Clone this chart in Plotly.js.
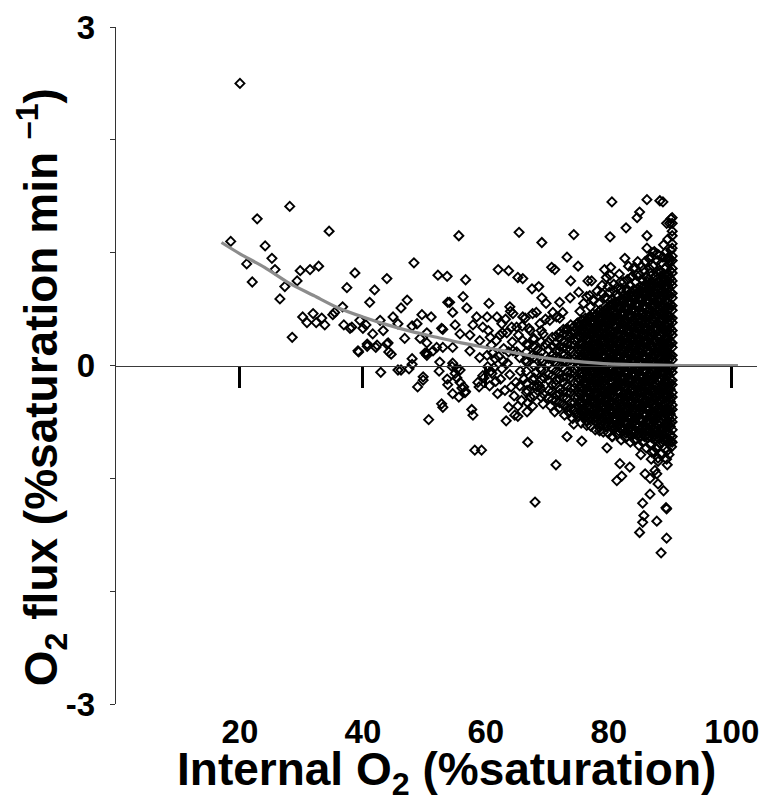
<!DOCTYPE html>
<html>
<head>
<meta charset="utf-8">
<script src="https://cdn.plot.ly/plotly-3.0.1.min.js"></script>
<style>html,body{margin:0;padding:0;background:#fff;}#chart{width:778px;height:801px;}</style>
</head>
<body>
<div id="chart"></div>
<script>
// ---- tick labels ----
const xTickVals = [20, 40, 60, 80, 100];
const xTickText = ['20', '40', '60', '80', '100'];
const yTickVals = [-3, 0, 3];
const yTickText = ['-3', '0', '3'];

// ---- fitted curve ----
const fitX = [17, 20, 24, 28, 32, 36, 40, 44, 48, 52, 56, 60, 64, 68, 72, 76, 80, 84, 88, 92, 96, 101];
const fitY = [1.09, 0.99, 0.87, 0.73, 0.62, 0.51, 0.43, 0.36, 0.30, 0.25, 0.20, 0.16, 0.12, 0.08, 0.05, 0.03, 0.015, 0.008, 0.003, 0, 0, 0];

// ---- observations, internal O2 < 50 ----
const obsLow = [[20,2.5],[28.1,1.41],[22.8,1.30],[34.5,1.19],[18.5,1.10],[24.1,1.06],[25.2,0.95],[21.1,0.90],[25.7,0.85],[32.8,0.88],[31.4,0.85],[29.8,0.84],[38.7,0.82],[29.3,0.75],[22.0,0.74],[27.3,0.70],[43.9,0.77],[48.3,0.91],[37.4,0.69],[41.9,0.67],[26.5,0.59],[41.1,0.56],[47.2,0.58],[46.2,0.51],[36.7,0.52],[35.4,0.47],[35.1,0.45],[30.2,0.43],[31.9,0.46],[30.9,0.38],[32.4,0.38],[33.3,0.42],[33.8,0.36],[36.9,0.36],[37.9,0.33],[38.2,0.34],[39.5,0.40],[40.5,0.36],[40.0,0.33],[42.8,0.40],[44.9,0.43],[45.7,0.37],[43.3,0.31],[41.6,0.28],[44.1,0.20],[42.3,0.18],[40.7,0.19],[39.2,0.13],[44.2,0.12],[28.5,0.25],[46.8,0.24],[49.6,0.45],[48.8,0.37],[48.0,0.35],[48.0,0.06],[39.3,0.12],[40.7,0.17],[42.1,0.16],[43.9,0.19],[44.6,0.10],[42.9,-0.06],[45.7,-0.04],[46.2,-0.04],[48.0,0.01],[47.5,-0.03],[48.9,-0.19],[49.8,-0.13],[49.3,0.24]];

// ---- observations, internal O2 50-70 ----
const obsMid = [[52.2,0.80],[53.7,0.79],[53.0,0.32],[50.4,0.29],[51.1,0.43],[50.1,0.11],[51.4,0.13],[52.0,0.16],[53.8,0.56],[55.6,1.15],[65.4,1.18],[69.1,1.09],[56.7,0.76],[62.0,0.85],[63.7,0.84],[65.2,0.78],[66.0,0.77],[67.5,0.68],[68.6,0.70],[56.3,0.61],[54.1,0.56],[56.9,0.51],[60.5,0.55],[69.1,0.60],[69.8,0.55],[63.9,0.52],[64.4,0.46],[54.6,0.47],[58.5,0.43],[60.2,0.43],[61.8,0.43],[66.0,0.43],[67.6,0.46],[57.9,0.36],[59.5,0.34],[62.6,0.37],[64.2,0.34],[55.0,0.36],[55.8,0.28],[52.8,0.33],[57.4,0.27],[59.0,0.22],[60.7,0.25],[62.3,0.27],[63.4,0.29],[50.4,0.20],[53.0,0.16],[54.6,0.16],[50.4,0.11],[52.5,0.03],[54.6,0.02],[55.8,-0.04],[57.4,0.13],[59.0,0.07],[61.1,0.11],[62.8,0.04],[64.4,0.13],[65.5,0.07],[65.0,0.34],[67.2,0.31],[69.3,0.28],[66.0,0.22],[68.8,0.37],[50.7,-0.48],[52.8,-0.34],[49.8,-0.10],[53.7,-0.12],[55.0,-0.07],[55.8,-0.15],[56.6,-0.24],[54.6,-0.25],[56.1,-0.20],[57.7,-0.39],[58.2,-0.75],[59.3,-0.75],[58.7,-0.15],[59.5,-0.09],[61.6,-0.14],[61.0,-0.07],[62.6,-0.03],[64.1,-0.19],[65.5,-0.18],[66.7,-0.22],[68.3,-0.19],[69.3,-0.25],[63.7,-0.37],[65.2,-0.36],[64.7,-0.44],[63.3,-0.49],[66.8,-0.33],[67.6,-0.36],[66.8,-0.68],[68.0,-1.21],[50.4,0.09],[52.4,-0.05],[53.8,-0.17],[54.5,-0.01],[55.3,-0.11],[55.3,-0.03],[55.6,-0.28],[56.7,-0.23],[56.4,-0.19],[53.0,-0.37],[57.9,-0.44],[58.9,-0.19],[59.7,-0.11],[60.8,-0.05],[60.3,-0.01],[60.4,0.31],[60.9,0.18],[61.3,-0.02],[61.7,0.22],[62.1,0.08],[62.4,-0.12],[62.9,0.15],[63.2,0.41],[63.5,0.02],[63.9,-0.08],[64.3,0.21],[64.6,-0.27],[65.0,0.12],[65.3,0.27],[65.6,-0.05],[65.9,0.35],[66.2,-0.12],[66.5,0.05],[66.9,0.18],[67.2,-0.28],[67.5,0.09],[67.8,0.24],[68.1,-0.06],[68.4,0.14],[68.7,-0.18],[69.0,0.31],[69.2,0.03],[69.5,-0.11],[69.8,0.19],[60.6,-0.18],[61.9,-0.25],[63.1,-0.22],[64.0,0.48],[65.8,-0.31],[66.4,0.42],[67.0,0.33],[68.2,0.47],[69.3,-0.34],[69.7,0.41],[62.7,0.29],[64.9,-0.15],[66.7,-0.41],[68.9,-0.02],[67.7,-0.13],[65.2,-0.45],[63.7,0.12],[61.5,0.06],[60.2,0.09]];

// ---- observations above the dense cloud, internal O2 > 70 ----
const obsHighUpper = [[74.3,1.16],[80.5,1.45],[86.2,1.47],[88.3,1.46],[88.8,1.45],[85.0,1.36],[84.6,1.31],[82.8,1.22],[80.2,1.14],[86.2,1.15],[89.4,1.26],[90.1,1.30],[89.9,1.26],[73.2,0.96],[75.0,0.88],[70.7,0.87],[71.2,0.85],[79.3,0.85],[80.2,0.80],[84.2,0.87],[87.2,1.00],[87.8,0.99],[88.8,0.96],[89.6,0.95],[89.9,0.93],[89.1,0.86],[88.5,0.83],[73.8,0.75],[76.6,0.75],[77.2,0.75],[83.6,0.78],[86.5,0.77],[72.0,0.56],[73.7,0.60],[75.1,0.65],[81.3,0.69],[82.1,0.65],[82.9,0.68],[78.9,0.64],[79.8,0.59],[76.9,0.62],[77.4,0.58],[70.9,0.47],[71.5,0.43],[72.5,0.47],[70.4,0.40],[72.0,0.42],[73.2,0.31],[74.8,0.37],[75.3,0.48],[75.9,0.55],[76.4,0.61],[77.0,0.52],[77.6,0.58],[78.1,0.66],[78.4,0.55],[78.9,0.71],[79.3,0.60],[79.6,0.78],[80.1,0.65],[80.5,0.58],[80.8,0.72],[81.3,0.63],[81.7,0.81],[82.0,0.68],[82.4,0.74],[82.9,0.66],[83.2,0.88],[83.5,0.71],[83.8,0.79],[84.3,0.74],[84.7,0.92],[85.0,0.80],[85.4,0.76],[85.7,0.85],[86.1,0.78],[86.5,0.95],[86.8,0.82],[87.2,0.88],[87.5,0.79],[87.9,0.93],[88.3,0.84],[88.6,0.91],[89.0,0.81],[89.3,0.87],[89.7,0.96],[90.0,0.84],[86.2,1.04],[87.4,1.01],[88.9,1.07],[89.6,1.12],[84.0,0.86],[82.6,0.95],[80.3,0.87],[84.5,0.80],[85.3,0.88],[85.9,0.92],[86.6,0.86],[87.0,0.96],[87.7,0.83],[88.1,0.98],[88.7,0.78],[89.2,1.00],[89.8,0.90],[90.1,1.02],[86.3,0.74],[87.9,0.77],[89.5,0.79],[83.0,0.76],[81.9,0.74],[80.9,0.66],[79.9,0.70]];

// ---- observations below the dense cloud, internal O2 > 70 ----
const obsHighLower = [[71.4,-0.88],[73.2,-0.63],[75.6,-0.67],[74.3,-0.52],[76.4,-0.53],[78.5,-0.58],[80.5,-0.63],[79.7,-0.73],[81.8,-0.87],[83.4,-0.90],[82.1,-0.98],[81.3,-1.02],[87.0,-0.77],[88.0,-0.82],[89.4,-0.83],[87.8,-0.74],[89.6,-0.75],[88.3,-0.69],[90.1,-0.67],[85.9,-0.96],[87.5,-0.93],[86.7,-1.00],[87.8,-0.96],[88.0,-1.05],[88.9,-1.11],[86.7,-1.14],[85.5,-1.22],[89.3,-1.26],[89.4,-1.27],[85.7,-1.33],[85.5,-1.39],[87.8,-1.38],[85.0,-1.48],[89.4,-1.53],[88.5,-1.66],[70.5,-0.36],[71.2,-0.41],[71.9,-0.38],[72.8,-0.44],[73.4,-0.41],[74.1,-0.47],[74.9,-0.45],[75.5,-0.51],[76.3,-0.49],[77.1,-0.54],[77.8,-0.57],[78.5,-0.55],[79.1,-0.59],[79.9,-0.60],[80.6,-0.63],[81.4,-0.61],[82.0,-0.66],[82.7,-0.64],[83.5,-0.68],[84.2,-0.66],[84.9,-0.71],[85.5,-0.68],[86.1,-0.73],[86.7,-0.70],[87.3,-0.76],[87.9,-0.72],[88.5,-0.78],[89.1,-0.74],[89.8,-0.79],[90.2,-0.72],[88.0,-0.85],[89.5,-0.88],[86.9,-0.83],[85.2,-0.79]];

// ---- dense cloud, internal O2 66-90 (x of each column, and its flux values) ----
const denseColX = [66.6, 67.8, 69.0, 70.2, 70.8, 71.4, 72.0, 72.6, 73.2, 73.8, 74.4, 75.0, 75.6, 76.2, 76.8, 77.4, 78.0, 78.6, 79.2, 79.8, 80.4, 81.0, 81.6, 82.2, 82.8, 83.4, 84.0, 84.6, 85.2, 85.8, 86.4, 87.0, 87.6, 88.2, 88.8, 89.4, 90.0, 90.3];
const denseColY = [
 [-0.24,-0.16,-0.05,0.03,0.12,0.19],
 [-0.27,-0.18,-0.11,0.00,0.07,0.17,0.23],
 [-0.28,-0.21,-0.12,-0.04,0.06,0.12,0.21],
 [-0.29,-0.22,-0.13,-0.08,0.01,0.06,0.14,0.21],
 [-0.30,-0.23,-0.17,-0.09,-0.03,0.05,0.09,0.17,0.25],
 [-0.31,-0.26,-0.17,-0.13,-0.05,0.02,0.08,0.13,0.20,0.26],
 [-0.33,-0.25,-0.21,-0.12,-0.07,0.00,0.06,0.13,0.17,0.24,0.29],
 [-0.35,-0.28,-0.23,-0.15,-0.10,-0.02,0.04,0.09,0.16,0.21,0.28,0.32],
 [-0.37,-0.29,-0.24,-0.18,-0.10,-0.06,0.03,0.07,0.15,0.19,0.27,0.33],
 [-0.38,-0.33,-0.24,-0.20,-0.11,-0.07,0.01,0.05,0.14,0.18,0.26,0.29,0.36],
 [-0.40,-0.33,-0.28,-0.20,-0.15,-0.07,-0.03,0.06,0.10,0.18,0.23,0.30,0.35],
 [-0.42,-0.36,-0.28,-0.23,-0.15,-0.11,-0.02,0.02,0.10,0.15,0.23,0.27,0.35,0.38],
 [-0.44,-0.36,-0.32,-0.23,-0.19,-0.10,-0.06,0.03,0.07,0.15,0.19,0.28,0.32,0.40],
 [-0.45,-0.40,-0.31,-0.27,-0.18,-0.14,-0.06,0.01,0.05,0.13,0.18,0.26,0.30,0.38,0.42],
 [-0.47,-0.39,-0.35,-0.26,-0.22,-0.14,-0.09,-0.01,0.06,0.10,0.18,0.22,0.31,0.35,0.43],
 [-0.48,-0.43,-0.34,-0.30,-0.22,-0.17,-0.09,-0.04,0.04,0.08,0.17,0.21,0.29,0.36,0.40,0.46],
 [-0.50,-0.43,-0.38,-0.30,-0.25,-0.17,-0.13,-0.04,0.02,0.07,0.15,0.19,0.28,0.32,0.40,0.45],
 [-0.52,-0.44,-0.40,-0.31,-0.27,-0.18,-0.14,-0.06,0.00,0.05,0.13,0.18,0.26,0.30,0.39,0.43,0.49],
 [-0.53,-0.47,-0.39,-0.35,-0.26,-0.22,-0.14,-0.07,-0.03,0.06,0.10,0.18,0.23,0.31,0.35,0.44,0.48],
 [-0.54,-0.48,-0.43,-0.35,-0.31,-0.23,-0.19,-0.11,-0.07,0.01,0.05,0.12,0.16,0.24,0.28,0.36,0.40,0.47,0.51],
 [-0.55,-0.51,-0.43,-0.39,-0.32,-0.26,-0.22,-0.14,-0.10,-0.03,0.03,0.07,0.15,0.19,0.26,0.30,0.38,0.41,0.49,0.53],
 [-0.56,-0.50,-0.46,-0.38,-0.35,-0.27,-0.21,-0.18,-0.10,-0.06,0.02,0.05,0.13,0.17,0.24,0.30,0.34,0.42,0.45,0.53,0.56],
 [-0.58,-0.52,-0.45,-0.42,-0.34,-0.30,-0.23,-0.17,-0.13,-0.06,-0.02,0.06,0.09,0.17,0.21,0.28,0.32,0.40,0.43,0.51,0.57],
 [-0.58,-0.54,-0.46,-0.43,-0.35,-0.29,-0.26,-0.18,-0.12,-0.09,-0.01,0.03,0.10,0.14,0.22,0.25,0.33,0.37,0.44,0.48,0.56,0.59],
 [-0.60,-0.53,-0.49,-0.42,-0.38,-0.30,-0.27,-0.19,-0.15,-0.08,-0.04,0.04,0.07,0.15,0.19,0.26,0.30,0.38,0.41,0.49,0.53,0.61],
 [-0.61,-0.55,-0.48,-0.45,-0.37,-0.33,-0.26,-0.22,-0.14,-0.11,-0.03,0.01,0.08,0.12,0.20,0.23,0.31,0.35,0.42,0.46,0.54,0.57,0.64],
 [-0.61,-0.57,-0.50,-0.44,-0.40,-0.32,-0.29,-0.21,-0.17,-0.10,-0.06,0.02,0.05,0.13,0.17,0.24,0.28,0.36,0.39,0.47,0.51,0.58,0.62,0.67],
 [-0.62,-0.55,-0.51,-0.44,-0.39,-0.35,-0.27,-0.24,-0.16,-0.12,-0.05,0.00,0.06,0.10,0.18,0.22,0.29,0.33,0.40,0.45,0.52,0.55,0.63,0.68],
 [-0.63,-0.57,-0.50,-0.47,-0.39,-0.36,-0.28,-0.23,-0.19,-0.11,-0.08,0.00,0.04,0.11,0.15,0.23,0.26,0.34,0.38,0.45,0.49,0.57,0.60,0.66,0.70],
 [-0.63,-0.58,-0.53,-0.45,-0.42,-0.34,-0.31,-0.23,-0.18,-0.14,-0.06,-0.03,0.05,0.08,0.16,0.21,0.27,0.32,0.38,0.43,0.50,0.53,0.61,0.65,0.71],
 [-0.64,-0.57,-0.52,-0.48,-0.40,-0.37,-0.29,-0.26,-0.18,-0.13,-0.09,-0.01,0.03,0.10,0.14,0.21,0.25,0.33,0.36,0.44,0.48,0.55,0.58,0.66,0.71],
 [-0.64,-0.59,-0.54,-0.46,-0.43,-0.35,-0.32,-0.24,-0.20,-0.13,-0.08,-0.04,0.04,0.07,0.15,0.18,0.26,0.30,0.37,0.40,0.48,0.52,0.59,0.62,0.70,0.73],
 [-0.65,-0.58,-0.55,-0.47,-0.44,-0.36,-0.30,-0.27,-0.19,-0.16,-0.08,-0.03,0.02,0.09,0.12,0.20,0.23,0.31,0.34,0.42,0.45,0.53,0.56,0.64,0.68,0.73],
 [-0.65,-0.60,-0.53,-0.49,-0.42,-0.38,-0.31,-0.26,-0.22,-0.14,-0.11,-0.03,0.01,0.07,0.13,0.16,0.24,0.27,0.35,0.39,0.46,0.50,0.57,0.60,0.68,0.74],
 [-0.66,-0.61,-0.56,-0.48,-0.45,-0.37,-0.34,-0.26,-0.21,-0.17,-0.09,-0.06,0.02,0.05,0.13,0.18,0.23,0.29,0.33,0.40,0.44,0.51,0.55,0.62,0.66,0.74],
 [-0.66,-0.60,-0.55,-0.51,-0.43,-0.40,-0.32,-0.28,-0.20,-0.17,-0.09,-0.04,0.00,0.08,0.11,0.19,0.22,0.30,0.34,0.41,0.45,0.52,0.56,0.63,0.67,0.72,0.76],
 [-0.67,-0.62,-0.54,-0.51,-0.43,-0.40,-0.32,-0.29,-0.21,-0.16,-0.12,-0.04,-0.01,0.07,0.10,0.18,0.21,0.29,0.33,0.40,0.43,0.51,0.54,0.62,0.65,0.73,0.77],
 [-0.68,-0.63,-0.57,-0.50,-0.46,-0.39,-0.35,-0.28,-0.24,-0.17,-0.13,-0.06,-0.02,0.05,0.09,0.16,0.20,0.27,0.31,0.38,0.42,0.49,0.53,0.60,0.64,0.71,0.75,0.82,0.86,0.93,0.97,1.04,1.08,1.15,1.19,1.26,1.31]
];

// ---- dense cloud, second set of readings between the columns above ----
const denseColX2 = [75.3, 75.9, 76.5, 77.1, 77.7, 78.3, 78.9, 79.5, 80.1, 80.7, 81.3, 81.9, 82.5, 83.1, 83.7, 84.3, 84.9, 85.5, 86.1, 86.7, 87.3, 87.9, 88.5, 89.1, 89.7];
const denseColY2 = [
 [-0.40,-0.33,-0.26,-0.19,-0.13,-0.07,0.00,0.06,0.12,0.19,0.25,0.31,0.36],
 [-0.41,-0.34,-0.28,-0.21,-0.15,-0.08,-0.02,0.04,0.11,0.17,0.24,0.30,0.37],
 [-0.43,-0.36,-0.29,-0.23,-0.16,-0.10,-0.03,0.03,0.09,0.16,0.22,0.29,0.35,0.40],
 [-0.45,-0.38,-0.31,-0.24,-0.18,-0.12,-0.05,0.01,0.08,0.14,0.20,0.27,0.33,0.39,0.43],
 [-0.46,-0.39,-0.33,-0.26,-0.20,-0.13,-0.07,0.00,0.06,0.12,0.19,0.25,0.31,0.38,0.44],
 [-0.48,-0.41,-0.35,-0.28,-0.21,-0.15,-0.08,-0.02,0.04,0.11,0.17,0.24,0.30,0.36,0.42,0.47],
 [-0.49,-0.42,-0.36,-0.29,-0.23,-0.16,-0.10,-0.03,0.03,0.09,0.16,0.22,0.28,0.35,0.41,0.47],
 [-0.51,-0.44,-0.38,-0.31,-0.25,-0.18,-0.12,-0.05,0.01,0.08,0.14,0.20,0.27,0.33,0.39,0.45,0.50],
 [-0.52,-0.46,-0.40,-0.33,-0.27,-0.20,-0.14,-0.08,-0.01,0.05,0.11,0.18,0.24,0.30,0.37,0.43,0.49,0.53],
 [-0.53,-0.47,-0.41,-0.34,-0.28,-0.22,-0.15,-0.09,-0.03,0.04,0.10,0.16,0.23,0.29,0.35,0.42,0.48,0.54],
 [-0.54,-0.48,-0.42,-0.36,-0.29,-0.23,-0.17,-0.10,-0.04,0.02,0.09,0.15,0.21,0.28,0.34,0.40,0.47,0.52,0.56],
 [-0.55,-0.49,-0.43,-0.37,-0.30,-0.24,-0.18,-0.11,-0.05,0.01,0.08,0.14,0.20,0.27,0.33,0.39,0.46,0.51,0.57],
 [-0.56,-0.50,-0.44,-0.38,-0.31,-0.25,-0.19,-0.12,-0.06,0.00,0.07,0.13,0.19,0.26,0.32,0.38,0.45,0.51,0.58],
 [-0.57,-0.51,-0.45,-0.39,-0.32,-0.26,-0.20,-0.13,-0.07,-0.01,0.06,0.12,0.18,0.25,0.31,0.37,0.44,0.50,0.56,0.61],
 [-0.58,-0.52,-0.46,-0.40,-0.33,-0.27,-0.21,-0.14,-0.08,-0.02,0.05,0.11,0.17,0.24,0.30,0.36,0.43,0.49,0.55,0.61,0.65],
 [-0.59,-0.53,-0.47,-0.41,-0.34,-0.28,-0.22,-0.15,-0.09,-0.03,0.04,0.10,0.16,0.23,0.29,0.35,0.42,0.48,0.54,0.61,0.66],
 [-0.60,-0.54,-0.48,-0.42,-0.35,-0.29,-0.23,-0.16,-0.10,-0.04,0.03,0.09,0.15,0.22,0.28,0.34,0.41,0.47,0.53,0.60,0.66],
 [-0.61,-0.55,-0.49,-0.43,-0.36,-0.30,-0.24,-0.17,-0.11,-0.05,0.02,0.08,0.14,0.21,0.27,0.33,0.40,0.46,0.52,0.59,0.65,0.69],
 [-0.62,-0.56,-0.50,-0.44,-0.37,-0.31,-0.25,-0.18,-0.12,-0.06,0.01,0.07,0.13,0.20,0.26,0.32,0.39,0.45,0.51,0.58,0.64,0.70],
 [-0.63,-0.57,-0.51,-0.45,-0.38,-0.32,-0.26,-0.19,-0.13,-0.07,0.00,0.06,0.12,0.19,0.25,0.31,0.38,0.44,0.50,0.57,0.63,0.69,0.72],
 [-0.63,-0.57,-0.50,-0.44,-0.37,-0.31,-0.24,-0.18,-0.12,-0.05,0.01,0.08,0.14,0.21,0.27,0.33,0.40,0.46,0.53,0.59,0.65,0.71],
 [-0.64,-0.58,-0.52,-0.45,-0.39,-0.32,-0.26,-0.20,-0.13,-0.07,0.00,0.06,0.12,0.19,0.25,0.32,0.38,0.44,0.51,0.57,0.64,0.70,0.74],
 [-0.64,-0.57,-0.51,-0.44,-0.38,-0.31,-0.25,-0.19,-0.12,-0.06,0.01,0.07,0.13,0.20,0.26,0.33,0.39,0.46,0.52,0.58,0.65,0.71],
 [-0.65,-0.59,-0.52,-0.46,-0.39,-0.33,-0.27,-0.20,-0.14,-0.07,-0.01,0.05,0.12,0.18,0.25,0.31,0.37,0.44,0.50,0.57,0.63,0.69,0.75],
 [-0.66,-0.59,-0.53,-0.46,-0.40,-0.33,-0.27,-0.21,-0.14,-0.08,-0.01,0.05,0.12,0.18,0.24,0.31,0.37,0.44,0.50,0.56,0.63,0.69,0.75,0.80]
];

// ---- titles ----
const xTitle = 'Internal O<sub>2</sub> (%saturation)';
const yTitle = 'O<sub>2</sub> flux (%saturation min <sup>\u20131</sup>)';

// ---- assemble ----
const ptsX = [], ptsY = [];
[obsLow, obsMid, obsHighUpper, obsHighLower].forEach(group => {
  group.forEach(p => { ptsX.push(p[0]); ptsY.push(p[1]); });
});
[[denseColX, denseColY], [denseColX2, denseColY2]].forEach(([cols, vals]) => {
  cols.forEach((cx, i) => { vals[i].forEach(v => { ptsX.push(cx); ptsY.push(v); }); });
});

const FONT = 'Liberation Sans, Arial, Helvetica, sans-serif';
const xRange = [-0.16, 104.1];
const titleFont = { family: FONT, size: 46, color: '#000', weight: 'bold' };

const traces = [
  {
    type: 'scatter', mode: 'markers', x: ptsX, y: ptsY,
    xaxis: 'x', yaxis: 'y',
    marker: { symbol: 'diamond-open', size: 7, color: '#000', line: { width: 1.9, color: '#000' } },
    hoverinfo: 'skip', showlegend: false
  },
  {
    type: 'scatter', mode: 'lines', x: fitX, y: fitY,
    xaxis: 'x2', yaxis: 'y',
    line: { color: '#8c8c8c', width: 3.2, shape: 'spline', smoothing: 0.8 },
    hoverinfo: 'skip', showlegend: false
  }
];

const layout = {
  width: 778, height: 801,
  margin: { l: 116, r: 21, t: 27, b: 97, pad: 0 },
  paper_bgcolor: '#fff', plot_bgcolor: '#fff',
  font: { family: FONT, color: '#000', weight: 'bold' },
  showlegend: false,
  xaxis: {
    range: xRange, domain: [0, 1],
    showline: false, zeroline: false, showgrid: false, ticks: '',
    tickmode: 'array', tickvals: xTickVals, ticktext: xTickText,
    tickfont: { family: FONT, size: 33, color: '#000', weight: 'bold' },
    ticklabelstandoff: 5,
    automargin: false
  },
  xaxis2: {
    range: xRange, overlaying: 'x', anchor: 'free', position: 0.5, side: 'bottom',
    showline: true, linecolor: '#3a3a3a', linewidth: 1.2,
    zeroline: false, showgrid: false,
    ticks: 'outside', ticklen: 21, tickwidth: 3, tickcolor: '#000',
    tickmode: 'array', tickvals: xTickVals, showticklabels: false,
    automargin: false
  },
  yaxis: {
    range: [-3, 3], domain: [0, 1],
    showline: true, linecolor: '#333', linewidth: 1.2,
    zeroline: false, showgrid: false,
    ticks: 'outside', ticklen: 5, tickwidth: 1, tickcolor: '#333',
    tickmode: 'array', tickvals: yTickVals, ticktext: yTickText,
    minor: { dtick: 1, tick0: 0, ticks: 'outside', ticklen: 5, tickwidth: 1, tickcolor: '#333', showgrid: false },
    tickfont: { family: FONT, size: 33, color: '#000', weight: 'bold' },
    ticklabelstandoff: 8,
    automargin: false
  },
  annotations: [
    {
      text: xTitle, xref: 'paper', yref: 'paper', x: 0.516, y: -0.1015,
      xanchor: 'center', yanchor: 'middle', showarrow: false, font: titleFont
    },
    {
      text: yTitle, xref: 'paper', yref: 'paper', x: -0.117, y: 0.468,
      xanchor: 'center', yanchor: 'middle', textangle: -90, showarrow: false, font: titleFont
    }
  ]
};

Plotly.newPlot('chart', traces, layout, { staticPlot: true, displayModeBar: false });
</script>
</body>
</html>
